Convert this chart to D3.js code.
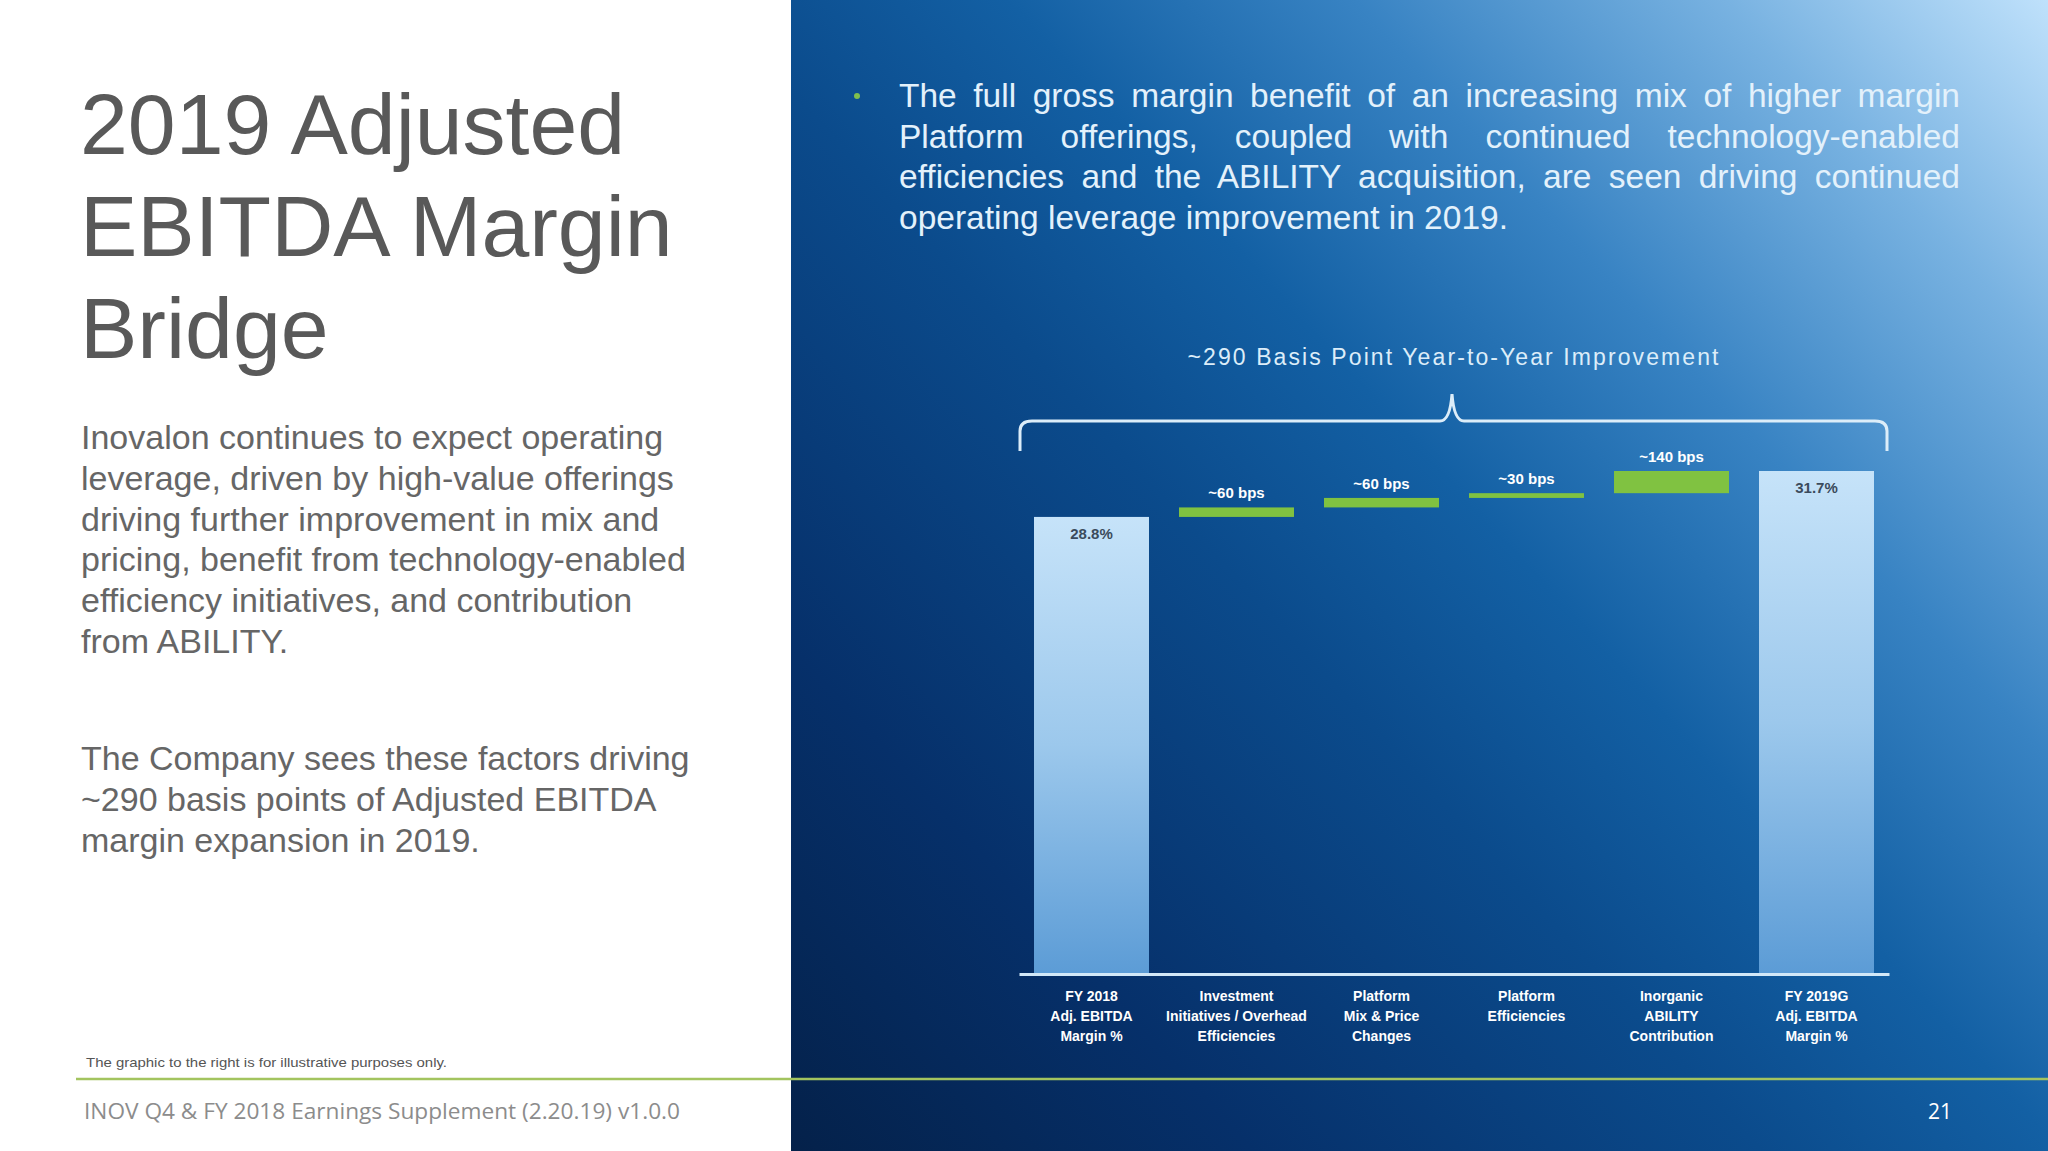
<!DOCTYPE html>
<html>
<head>
<meta charset="utf-8">
<script src="https://cdn.jsdelivr.net/npm/d3@7/dist/d3.min.js"></script>
<style>
  html, body { margin: 0; padding: 0; background: #ffffff; }
  svg { display: block; }
  text { font-family: "Liberation Sans", Arial, sans-serif; }
</style>
</head>
<body>
<svg id="chart" width="2048" height="1151"></svg>
<script>
// ---------------- data ----------------
const categories = [
  ["FY 2018", "Adj. EBITDA", "Margin %"],
  ["Investment", "Initiatives / Overhead", "Efficiencies"],
  ["Platform", "Mix & Price", "Changes"],
  ["Platform", "Efficiencies"],
  ["Inorganic", "ABILITY", "Contribution"],
  ["FY 2019G", "Adj. EBITDA", "Margin %"]
];
const barTypes = ["total", "delta", "delta", "delta", "delta", "total"];
const values = [28.8, 0.6, 0.6, 0.3, 1.4, 31.7];
const valueLabels = ["28.8%", "~60 bps", "~60 bps", "~30 bps", "~140 bps", "31.7%"];
const braceLabel = "~290 Basis Point Year-to-Year Improvement";
const titleLines = ["2019 Adjusted", "EBITDA Margin", "Bridge"];
const para1 = ["Inovalon continues to expect operating", "leverage, driven by high-value offerings",
  "driving further improvement in mix and", "pricing, benefit from technology-enabled",
  "efficiency initiatives, and contribution", "from ABILITY."];
const para2 = ["The Company sees these factors driving", "~290 basis points of Adjusted EBITDA",
  "margin expansion in 2019."];
const bulletLines = ["The full gross margin benefit of an increasing mix of higher margin",
  "Platform offerings, coupled with continued technology-enabled",
  "efficiencies and the ABILITY acquisition, are seen driving continued",
  "operating leverage improvement in 2019."];
const footnote = "The graphic to the right is for illustrative purposes only.";
const footer = "INOV Q4 & FY 2018 Earnings Supplement (2.20.19) v1.0.0";
const pageNum = "21";

// ---------------- layout ----------------
const svg = d3.select("#chart");
const W = 2048, H = 1151, panelX = 791;
const defs = svg.append("defs");

const bg = defs.append("linearGradient").attr("id", "bgGrad")
  .attr("gradientUnits", "userSpaceOnUse")
  .attr("x1", panelX).attr("y1", H).attr("x2", W).attr("y2", 0);
[[0, "#04214a"], [0.2, "#06306a"], [0.42, "#0b4b8c"], [0.55, "#1360a4"],
 [0.7, "#3883c3"], [0.86, "#78b2e1"], [1, "#bfe1fb"]]
  .forEach(([o, c]) => bg.append("stop").attr("offset", o).attr("stop-color", c));

const barGrad = defs.append("linearGradient").attr("id", "barGrad")
  .attr("x1", 0).attr("y1", 0).attr("x2", 0).attr("y2", 1);
[[0, "#c6e3f9"], [0.5, "#9cc8ec"], [1, "#5c9cd6"]]
  .forEach(([o, c]) => barGrad.append("stop").attr("offset", o).attr("stop-color", c));

svg.append("rect").attr("x", 0).attr("y", 0).attr("width", W).attr("height", H).attr("fill", "#ffffff");
svg.append("rect").attr("x", panelX).attr("y", 0).attr("width", W - panelX).attr("height", H)
  .attr("fill", "url(#bgGrad)");

// ---------------- left text ----------------
const title = svg.append("text").attr("fill", "#595959").attr("font-size", 86);
titleLines.forEach((t, i) => title.append("tspan").attr("x", 80).attr("y", 154 + i * 102).text(t));

const p1 = svg.append("text").attr("fill", "#666666").attr("font-size", 34);
para1.forEach((t, i) => p1.append("tspan").attr("x", 81).attr("y", 449 + i * 40.8).text(t));
const p2 = svg.append("text").attr("fill", "#666666").attr("font-size", 34);
para2.forEach((t, i) => p2.append("tspan").attr("x", 81).attr("y", 770 + i * 40.8).text(t));

svg.append("text").attr("x", 86).attr("y", 1067).attr("fill", "#555555").attr("font-size", 13)
  .attr("textLength", 361).attr("lengthAdjust", "spacingAndGlyphs").text(footnote);

svg.append("line").attr("x1", 76).attr("x2", W).attr("y1", 1079).attr("y2", 1079)
  .attr("stroke", "#a3c45f").attr("stroke-width", 2.5);

svg.append("text").attr("x", 84).attr("y", 1119).attr("fill", "#8c8c8c").attr("font-size", 22)
  .style("font-family", "'Open Sans', sans-serif")
  .attr("textLength", 596).attr("lengthAdjust", "spacingAndGlyphs").text(footer);

svg.append("text").attr("x", 1928).attr("y", 1119).attr("fill", "#ffffff").attr("font-size", 21)
  .style("font-family", "'Open Sans', sans-serif").text(pageNum);

// ---------------- bullet text ----------------
svg.append("circle").attr("cx", 857).attr("cy", 96).attr("r", 3).attr("fill", "#7fbf4d");
const bulletWidth = 1061;
bulletLines.forEach((t, i) => {
  const tx = svg.append("text").attr("x", 899).attr("y", 107 + i * 40.6)
    .attr("fill", "#e3f1fb").attr("font-size", 33.5).text(t);
  if (i < bulletLines.length - 1) {
    const natural = tx.node().getComputedTextLength();
    const spaces = (t.match(/ /g) || []).length;
    tx.attr("word-spacing", (bulletWidth - natural) / spaces);
  }
});

// ---------------- chart ----------------
const x = d3.scaleBand().domain(d3.range(categories.length))
  .range([1019, 1889]).paddingInner(0.207).paddingOuter(0.1035);
const y = d3.scaleLinear().domain([0, 31.7]).range([973, 471]);

// compute bar extents (waterfall)
let running = 0;
const bars = values.map((v, i) => {
  let y0, y1;
  if (barTypes[i] === "total") { y0 = 0; y1 = v; running = v; }
  else { y0 = running; y1 = running + v; running = y1; }
  return { i, y0, y1, type: barTypes[i], label: valueLabels[i] };
});

const g = svg.append("g");
g.selectAll("rect.bar").data(bars).enter().append("rect")
  .attr("class", "bar")
  .attr("x", d => x(d.i))
  .attr("width", x.bandwidth())
  .attr("y", d => y(d.y1))
  .attr("height", d => y(d.y0) - y(d.y1))
  .attr("fill", d => d.type === "total" ? "url(#barGrad)" : "#80c241");

// value labels
g.selectAll("text.val").data(bars).enter().append("text")
  .attr("class", "val")
  .attr("x", d => x(d.i) + x.bandwidth() / 2)
  .attr("y", d => d.type === "total" ? y(d.y1) + 22 : y(d.y1) - 9)
  .attr("text-anchor", "middle")
  .attr("font-size", 15)
  .attr("font-weight", "bold")
  .attr("fill", d => d.type === "total" ? "#3b4b5c" : "#ffffff")
  .text(d => d.label);

// baseline axis
const axis = d3.axisBottom(x).tickSize(0).tickFormat("");
const axG = svg.append("g").attr("transform", `translate(0,${y(0) + 1})`).call(axis);
axG.select(".domain").attr("stroke", "#d2e8f8").attr("stroke-width", 3);

// category labels
categories.forEach((lines, i) => {
  const t = svg.append("text").attr("text-anchor", "middle").attr("fill", "#ffffff")
    .attr("font-size", 14).attr("font-weight", "bold");
  lines.forEach((l, j) => t.append("tspan")
    .attr("x", x(i) + x.bandwidth() / 2).attr("y", 1001 + j * 20).text(l));
});

// brace
const bx0 = 1020, bx1 = 1887, by = 421, bBot = 451, tipX = 1452, tipY = 394;
const bracePath = d3.path();
bracePath.moveTo(bx0, bBot);
bracePath.lineTo(bx0, by + 10);
bracePath.quadraticCurveTo(bx0, by, bx0 + 12, by);
bracePath.lineTo(tipX - 12, by);
bracePath.quadraticCurveTo(tipX - 2, by, tipX, tipY);
bracePath.quadraticCurveTo(tipX + 2, by, tipX + 12, by);
bracePath.lineTo(bx1 - 12, by);
bracePath.quadraticCurveTo(bx1, by, bx1, by + 10);
bracePath.lineTo(bx1, bBot);
svg.append("path").attr("d", bracePath.toString()).attr("fill", "none")
  .attr("stroke", "#dcedf9").attr("stroke-width", 3);

svg.append("text").attr("x", 1453).attr("y", 365).attr("text-anchor", "middle")
  .attr("fill", "#dcedf9").attr("font-size", 23)
  .attr("textLength", 531).attr("lengthAdjust", "spacing").text(braceLabel);
</script>
</body>
</html>
